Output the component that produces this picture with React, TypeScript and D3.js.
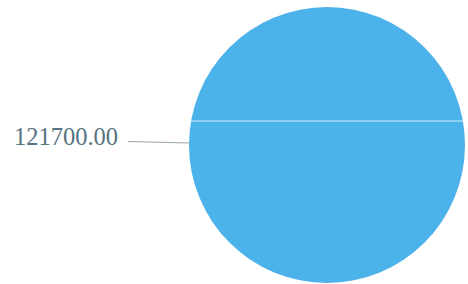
import { useEffect, useRef } from 'react'
import * as d3 from 'd3'

const labels = ['121700.00']
const values = [121700]
const fillLevels = [0.587] // level of the white divider line, as share of the diameter

const W = 468
const H = 284

const App = () => {
  const svgRef = useRef<SVGSVGElement>(null)

  useEffect(() => {
    const svg = d3.select(svgRef.current)
    svg.selectAll('*').remove()

    const cx = 327
    const cy = 145
    const r = 138

    const pie = d3.pie<number>().sort(null)(values)
    const arc = d3.arc<d3.PieArcDatum<number>>().innerRadius(0).outerRadius(r)

    const g = svg.append('g').attr('transform', `translate(${cx},${cy})`)

    g.selectAll('path.slice')
      .data(pie)
      .enter()
      .append('path')
      .attr('class', 'slice')
      .attr('d', arc)
      .attr('fill', '#4cb2ea')

    // divider chord
    const y = d3.scaleLinear().domain([0, 1]).range([r, -r])
    fillLevels.forEach((lv) => {
      const yy = y(lv)
      const half = Math.sqrt(r * r - yy * yy)
      g.append('line')
        .attr('x1', -half)
        .attr('x2', half)
        .attr('y1', yy)
        .attr('y2', yy)
        .attr('stroke', '#ffffff')
        .attr('stroke-opacity', 0.75)
        .attr('stroke-width', 1)
    })

    // label + leader line
    labels.forEach((lab) => {
      svg
        .append('line')
        .attr('x1', 128)
        .attr('y1', 141.5)
        .attr('x2', cx - r + 1)
        .attr('y2', 143)
        .attr('stroke', '#98a6ae')
        .attr('stroke-width', 1)
      svg
        .append('text')
        .attr('x', 118)
        .attr('y', 145)
        .attr('text-anchor', 'end')
        .attr('font-family', 'Liberation Serif, serif')
        .attr('font-size', 24.5)
        .attr('fill', '#56737f')
        .text(lab)
    })
  }, [])

  return (
    <svg
      ref={svgRef}
      width={W}
      height={H}
      style={{ position: 'absolute', left: 0, top: 0, background: '#fff' }}
    ></svg>
  )
}

export default App
